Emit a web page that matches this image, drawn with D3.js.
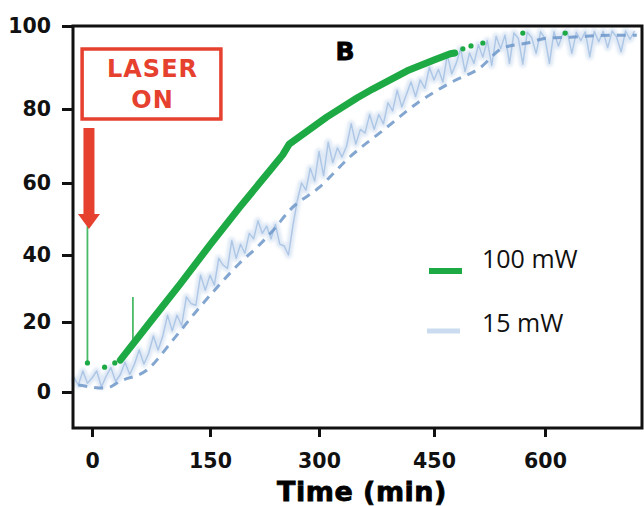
<!DOCTYPE html>
<html>
    <head>
        <meta charset="utf-8"/>
        <script src="https://cdnjs.cloudflare.com/ajax/libs/d3/7.8.5/d3.min.js"></script>
        <style>
            body { margin: 0; background: #fff; }
            .tick text { font-family: "DejaVu Sans", sans-serif; font-weight: bold; font-size: 20.5px; fill: #111; }
            .tick line { stroke: #111; stroke-width: 3; }
        </style>
    </head>
    <body>
        <div id="chart"></div>
        <script>

            // tick labels
            var xTicks = [0, 150, 300, 450, 600];
            var yTicks = [0, 20, 40, 60, 80, 100];

            // 100 mW, main trace (min, %)
            var greenTime  = [36, 74, 112, 150, 191, 233, 250, 259, 310, 350, 370, 415, 450, 472, 478];
            var greenValue = [9.1, 20.0, 31.3, 42.8, 53.3, 63.5, 67.6, 70.5, 77.8, 82.7, 84.8, 89.2, 91.8, 93.3, 93.5];
            // 100 mW, loose points before and after the main trace
            var greenDotTime  = [-6, 16, 29, 489, 500, 516, 570, 627];
            var greenDotValue = [8.3, 7.1, 8.3, 94.5, 95.2, 95.9, 98.3, 98.3];
            // 100 mW, spikes
            var spikeTime = [-6, 52];
            var spikeBase = [8.3, 13.8];
            var spikeTop  = [48, 27.5];

            // 15 mW, raw noisy trace (every 6 min from -24)
            var blueStart = -24, blueStep = 6;
            var blueValue = [
                4.2, 2, 6, 2.5, 4, 6, 1.5, 4.5, 7, 3, 5, 8.5, 5, 8, 12, 8,
                11, 16, 12, 16, 22, 17.5, 22, 19, 27.5, 25.5, 25, 34, 29.5, 34, 31, 39,
                37, 36, 44, 39, 43, 40.5, 46, 44.5, 49.5, 46, 48, 44.5, 48.5, 43, 42.5, 40,
                48, 55, 60, 58, 64, 60.5, 68.5, 62, 71, 65.5, 69.5, 67, 70, 76, 70.5, 74.5,
                73.5, 78.5, 74.5, 78.5, 76, 81.5, 79.5, 84.5, 80.5, 83.5, 86.5, 83, 87, 85, 90, 87,
                89.5, 86.5, 93, 88.5, 91, 94.5, 89, 93.5, 91, 95.5, 92.5, 96.5, 90.5, 97.5, 94.5, 97.8,
                91, 98.3, 97, 90.8, 98.5, 97.2, 93.4, 98.6, 97, 91, 98.6, 95.2, 98.2, 98.6, 93.4, 98.5,
                96.5, 98.6, 92.6, 98.7, 96.2, 98.7, 94.8, 98.8, 97.3, 93.8, 98.8, 96.8, 98.8
            ];
            // 15 mW, fitted dashed curve
            var fitTime  = [-18, 18, 36, 70, 103, 134, 160, 191, 215, 237, 260, 301, 340, 384, 428, 472, 512, 543, 576, 603, 634, 691, 723];
            var fitValue = [2.0, 1.1, 3.1, 6.3, 14.9, 23.6, 30.4, 37.6, 42.2, 46.9, 52.5, 58.9, 67.0, 74.3, 81.4, 86.3, 89.9, 94.7, 95.9, 97.1, 97.3, 97.8, 97.8];

            var width = 644, height = 506;
            var green = "#1daa44", blue = "#a3c0e3", blueDash = "#6d97c9", red = "#e6402f";

            var svg = d3.select("#chart").append("svg")
                .attr("width", width).attr("height", height);

            var defs = svg.append("defs");
            defs.append("filter").attr("id", "soft")
                .append("feGaussianBlur").attr("stdDeviation", 1.4);

            // the printed axes are slightly uneven, so map each tick to where it sits
            var x = d3.scaleLinear()
                .domain([-25, 0, 150, 300, 450, 600, 730])
                .range([73, 92, 210, 319, 434, 545, 642]);
            var y = d3.scaleLinear()
                .domain([-10, 0, 20, 40, 60, 80, 100])
                .range([428, 392, 322, 255, 183, 109, 26]);

            var blueData = blueValue.map(function(v, i) { return [blueStart + i * blueStep, v]; });
            var fitData = fitTime.map(function(t, i) { return [t, fitValue[i]]; });
            var greenData = greenTime.map(function(t, i) { return [t, greenValue[i]]; });

            var line = d3.line()
                .x(function(d) { return x(d[0]); })
                .y(function(d) { return y(d[1]); });
            var smooth = d3.line()
                .curve(d3.curveMonotoneX)
                .x(function(d) { return x(d[0]); })
                .y(function(d) { return y(d[1]); });

            // 15 mW noisy band
            svg.append("path").datum(blueData)
                .attr("d", line)
                .attr("fill", "none").attr("stroke", blue)
                .attr("stroke-width", 7).attr("stroke-opacity", 0.35)
                .attr("stroke-linejoin", "round")
                .attr("filter", "url(#soft)");
            svg.append("path").datum(blueData)
                .attr("d", line)
                .attr("fill", "none").attr("stroke", blue)
                .attr("stroke-width", 1.4).attr("stroke-opacity", 0.85)
                .attr("stroke-linejoin", "round");

            // 15 mW fit
            svg.append("path").datum(fitData)
                .attr("d", smooth)
                .attr("fill", "none").attr("stroke", blueDash)
                .attr("stroke-width", 3).attr("stroke-dasharray", "9,7")
                .attr("stroke-opacity", 0.85);

            // 100 mW
            svg.selectAll(".spike")
                .data(spikeTime)
                .enter().append("line")
                .attr("class", "spike")
                .attr("x1", function(d) { return x(d); })
                .attr("x2", function(d) { return x(d); })
                .attr("y1", function(d, i) { return y(spikeBase[i]); })
                .attr("y2", function(d, i) { return y(spikeTop[i]); })
                .attr("stroke", green).attr("stroke-width", 1.8)
                .attr("stroke-opacity", 0.8);

            svg.selectAll(".gdot")
                .data(greenDotTime)
                .enter().append("circle")
                .attr("class", "gdot")
                .attr("cx", function(d) { return x(d); })
                .attr("cy", function(d, i) { return y(greenDotValue[i]); })
                .attr("r", 2.6)
                .attr("fill", green);

            svg.append("path").datum(greenData)
                .attr("d", line)
                .attr("fill", "none").attr("stroke", green)
                .attr("stroke-width", 7)
                .attr("stroke-linecap", "round").attr("stroke-linejoin", "round");

            // axes
            var xAxis = svg.append("g")
                .attr("transform", "translate(0," + y(-10) + ")")
                .call(d3.axisBottom(x).tickValues(xTicks).tickSize(9).tickSizeOuter(0).tickPadding(16));
            var yAxis = svg.append("g")
                .attr("transform", "translate(" + x(-25) + ",0)")
                .call(d3.axisLeft(y).tickValues(yTicks).tickSize(11).tickSizeOuter(0).tickPadding(11));
            xAxis.select(".domain").remove();
            yAxis.select(".domain").remove();

            // frame
            svg.append("rect")
                .attr("x", x(-25)).attr("y", y(100))
                .attr("width", x(730) - x(-25)).attr("height", y(-10) - y(100))
                .attr("fill", "none").attr("stroke", "#111").attr("stroke-width", 3);

            // axis title
            svg.append("text")
                .attr("x", 362).attr("y", 501)
                .attr("text-anchor", "middle")
                .style("font-family", "'DejaVu Sans', sans-serif")
                .style("font-weight", "900").style("font-size", "27px")
                .style("letter-spacing", "0.5px")
                .style("stroke", "#000").style("stroke-width", "0.8px")
                .text("Time (min)");

            // panel letter
            svg.append("text")
                .attr("x", 345).attr("y", 60)
                .attr("text-anchor", "middle")
                .style("font-family", "'DejaVu Sans', sans-serif")
                .style("font-weight", "900").style("font-size", "25px")
                .style("stroke", "#000").style("stroke-width", "0.8px")
                .text("B");

            // laser annotation
            svg.append("rect")
                .attr("x", x(-13)).attr("y", 49)
                .attr("width", x(165) - x(-13)).attr("height", 70)
                .attr("fill", "#fff").attr("stroke", red).attr("stroke-width", 3.5);
            svg.selectAll(".laser")
                .data(["LASER", "ON"])
                .enter().append("text")
                .attr("class", "laser")
                .attr("x", (x(-13) + x(165)) / 2 + 1)
                .attr("y", function(d, i) { return 77 + i * 31; })
                .attr("text-anchor", "middle")
                .style("font-family", "'DejaVu Sans', sans-serif")
                .style("font-weight", "bold").style("font-size", "24px")
                .style("letter-spacing", "1px")
                .attr("fill", red)
                .text(function(d) { return d; });

            var ax = x(-4);
            svg.append("rect")
                .attr("x", ax - 5.5).attr("y", 128)
                .attr("width", 11).attr("height", 88)
                .attr("fill", red);
            svg.append("path")
                .attr("d", "M" + (ax - 11) + ",214 L" + (ax + 11) + ",214 L" + ax + ",229 Z")
                .attr("fill", red);

            // legend
            var legend = svg.append("g").attr("transform", "translate(427,0)");
            legend.append("line")
                .attr("x1", 2).attr("x2", 35).attr("y1", 271).attr("y2", 271)
                .attr("stroke", green).attr("stroke-width", 6);
            legend.append("line")
                .attr("x1", 0).attr("x2", 33).attr("y1", 331).attr("y2", 331)
                .attr("stroke", blue).attr("stroke-width", 5).attr("stroke-opacity", 0.55);
            legend.selectAll(".ltext")
                .data(["100 mW", "15 mW"])
                .enter().append("text")
                .attr("class", "ltext")
                .attr("x", 55)
                .attr("y", function(d, i) { return 268 + i * 64; })
                .style("font-family", "'Open Sans', sans-serif")
                .style("font-size", "25px")
                .attr("fill", "#111")
                .text(function(d) { return d; });

        </script>
    </body>
</html>
